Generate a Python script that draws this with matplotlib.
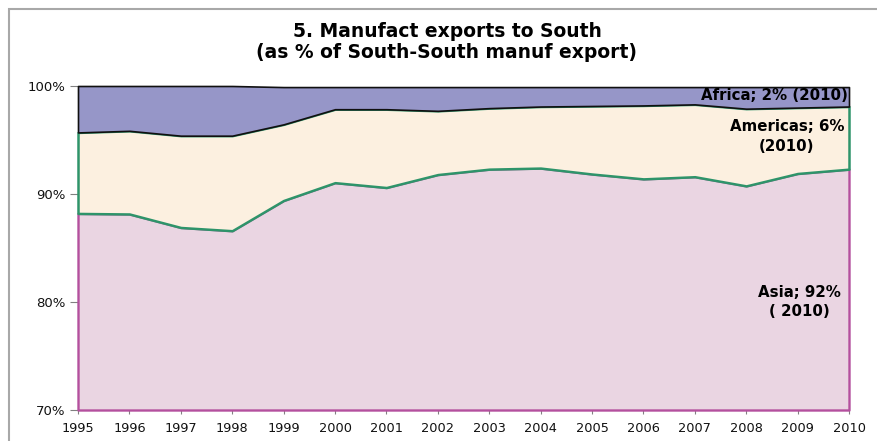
import matplotlib
matplotlib.use("Agg")
import matplotlib.pyplot as plt
import numpy as np
from matplotlib.patches import Rectangle

years = list(range(1995, 2011))
asia = [88.2, 88.15, 86.9, 86.6, 89.4, 91.05, 90.6, 91.8, 92.3, 92.4, 91.85, 91.4, 91.6, 90.75, 91.9, 92.3]
americas = [7.5, 7.7, 8.5, 8.8, 7.05, 6.8, 7.25, 5.9, 5.65, 5.7, 6.3, 6.8, 6.7, 7.15, 6.1, 5.8]
africa = [4.3, 4.15, 4.6, 4.6, 3.45, 2.05, 2.05, 2.2, 1.95, 1.8, 1.75, 1.7, 1.6, 2.0, 1.9, 1.8]
y_ticks = [70, 80, 90, 100]
y_labels = ["70%", "80%", "90%", "100%"]
title = "5. Manufact exports to South\n(as % of South-South manuf export)"

plt.rcParams['font.family'] = ['DejaVu Sans']

fig = plt.figure(figsize=(8.77, 4.41), dpi=100)
ax = fig.add_axes([78/877, 1-410/441, (849-78)/877, (410-86)/441])

x = np.array(years)
a1 = np.array(asia)
a2 = a1 + np.array(americas)
a3 = a2 + np.array(africa)
ymin = y_ticks[0]

ax.fill_between(x, ymin, a1, facecolor="#EAD5E2", edgecolor="#B4509E", linewidth=1.7, zorder=2, clip_on=False)
ax.fill_between(x, a1, a2, facecolor="#FCF0E0", edgecolor="#2E946A", linewidth=1.8, zorder=3, clip_on=False)
ax.fill_between(x, a2, a3, facecolor="#9696C8", edgecolor="#101010", linewidth=1.2, zorder=4, clip_on=False)

ax.set_xlim(years[0], years[-1])
ax.set_ylim(ymin, y_ticks[-1])
ax.set_yticks(y_ticks)
ax.set_yticklabels(y_labels)
ax.set_xticks(years)
ax.set_xticklabels([str(y) for y in years])
for s in ax.spines.values():
    s.set_visible(False)
ax.tick_params(axis='y', length=6, width=0.8, color="#808080", pad=3, labelsize=9.5, labelcolor="#111111")
ax.tick_params(axis='x', length=3, width=0.8, color="#808080", pad=6, labelsize=9.3, labelcolor="#111111")

fig.text(447/877, 1-42/441, title, ha='center', va='center', fontsize=13.5,
         fontweight='bold', linespacing=1.15)

ax.text(2009.98, 99.15, "Africa; 2% (2010)", ha='right', va='center', fontsize=10.8,
        fontweight='bold', zorder=6)
ax.text(2008.79, 95.32, "Americas; 6%\n(2010)", ha='center', va='center', fontsize=10.8,
        fontweight='bold', zorder=6, linespacing=1.4)
ax.text(2009.03, 80.0, "Asia; 92%\n( 2010)", ha='center', va='center', fontsize=10.8,
        fontweight='bold', zorder=6, linespacing=1.4)

fig.patches.append(Rectangle((8.5/877, -0.2), 2.0, 1.2 - 8.5/441,
                             transform=fig.transFigure, fill=False,
                             edgecolor="#A8A8A8", linewidth=1.5))

fig.savefig("out.png", dpi=100)
